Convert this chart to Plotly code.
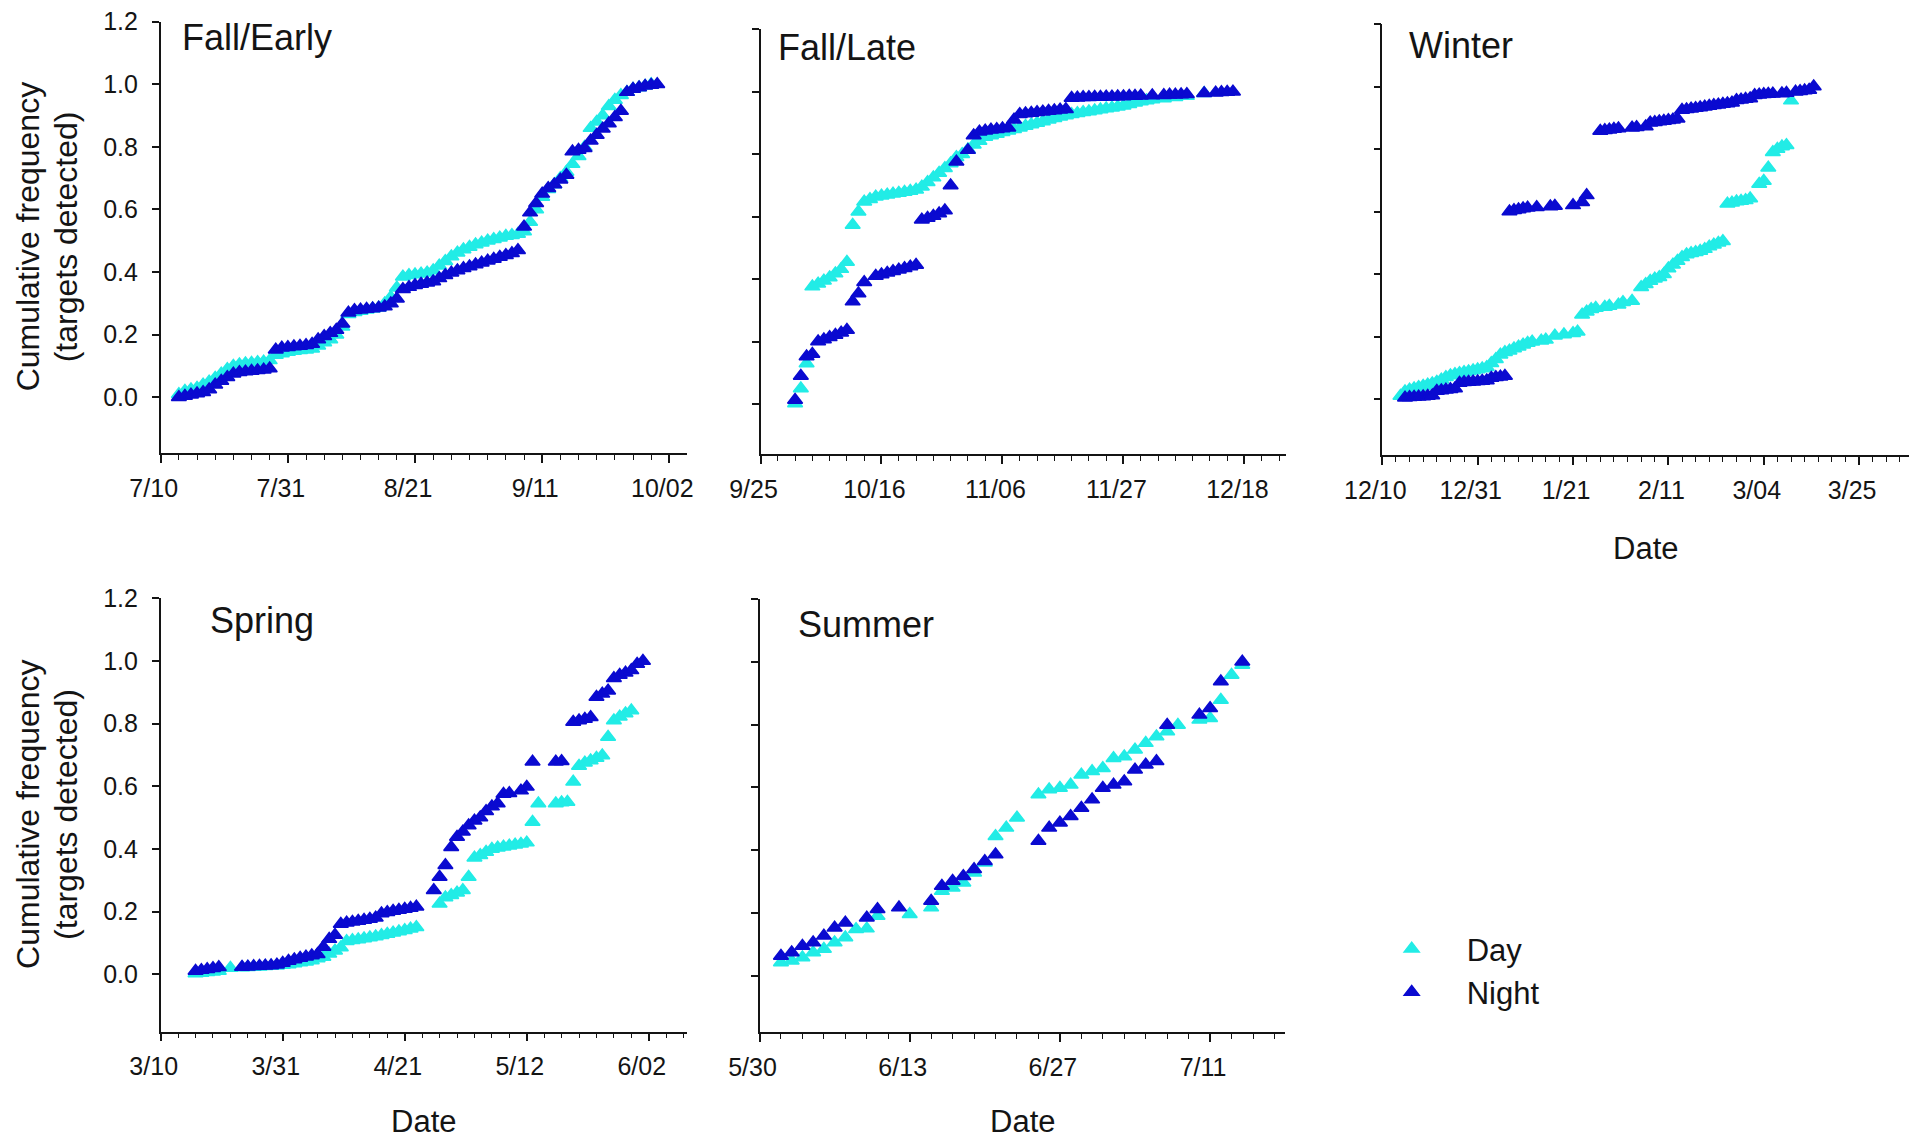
import pandas as pd
import plotly.graph_objects as go

# ---------------------------------------------------------------------------
# Cumulative frequency of targets detected, by season, day vs night.
# Each series: day offsets from the season's start date and cumulative values.
# ---------------------------------------------------------------------------

FALL_EARLY_START = "2009-07-10"
FALL_LATE_START = "2009-09-25"
WINTER_START = "2009-12-10"
SPRING_START = "2010-03-10"
SUMMER_START = "2010-05-30"

# Fall/Early
fe_day_days = [3, 4, 5, 6, 7, 8, 9, 10, 11, 12, 13, 14, 15, 16, 17, 18, 19, 20, 21, 22,
               23, 24, 25, 26, 27, 28, 29, 30, 31, 32, 33, 34, 35, 36, 37, 38, 39, 40, 41, 42,
               43, 44, 45, 46, 47, 48, 49, 50, 51, 52, 53, 54, 55, 56, 57, 58, 59, 60, 61, 62,
               63, 64, 65, 66, 67, 68, 69, 70, 71, 72, 73, 74, 75, 76, 77, 78, 79, 80, 81]
fe_day_vals = [0.010, 0.020, 0.025, 0.030, 0.040, 0.050, 0.062, 0.075, 0.090, 0.100,
               0.105, 0.108, 0.110, 0.112, 0.114, 0.118, 0.135, 0.140, 0.145, 0.148,
               0.150, 0.152, 0.155, 0.165, 0.175, 0.185, 0.200, 0.225, 0.265, 0.272,
               0.276, 0.280, 0.283, 0.286, 0.300, 0.320, 0.350, 0.385, 0.390, 0.392,
               0.395, 0.398, 0.405, 0.420, 0.435, 0.450, 0.462, 0.472, 0.480, 0.488,
               0.494, 0.500, 0.505, 0.510, 0.515, 0.518, 0.522, 0.530, 0.560, 0.600,
               0.640, 0.665, 0.680, 0.700, 0.720, 0.745, 0.770, 0.800, 0.860, 0.880,
               0.900, 0.930, 0.950, 0.965, 0.975, 0.985, 0.990, 0.995, 1.000]
fe_night_days = [3, 4, 5, 6, 7, 8, 9, 10, 11, 12, 13, 14, 15, 16, 17, 18, 19, 20, 21, 22,
                 23, 24, 25, 26, 27, 28, 29, 30, 31, 32, 33, 34, 35, 36, 37, 38, 39, 40, 41, 42,
                 43, 44, 45, 46, 47, 48, 49, 50, 51, 52, 53, 54, 55, 56, 57, 58, 59, 60, 61, 62,
                 63, 64, 65, 66, 67, 68, 69, 70, 71, 72, 73, 74, 75, 76, 77, 78, 79, 80, 81, 82]
fe_night_vals = [0.000, 0.004, 0.008, 0.012, 0.016, 0.025, 0.040, 0.052, 0.064, 0.075,
                 0.080, 0.082, 0.084, 0.086, 0.088, 0.092, 0.152, 0.158, 0.160, 0.162,
                 0.164, 0.166, 0.170, 0.185, 0.195, 0.205, 0.215, 0.235, 0.270, 0.278,
                 0.280, 0.282, 0.284, 0.286, 0.290, 0.300, 0.315, 0.345, 0.352, 0.358,
                 0.362, 0.366, 0.370, 0.380, 0.390, 0.398, 0.405, 0.412, 0.418, 0.424,
                 0.430, 0.436, 0.442, 0.448, 0.454, 0.460, 0.470, 0.545, 0.590, 0.620,
                 0.650, 0.668, 0.680, 0.695, 0.710, 0.785, 0.790, 0.796, 0.820, 0.838,
                 0.858, 0.875, 0.895, 0.915, 0.975, 0.985, 0.990, 0.995, 0.998, 1.000]

# Fall/Late
fl_day_days = [6, 7, 8, 9, 10, 11, 12, 13, 14, 15, 16, 17, 18,
               19, 20, 21, 22, 23, 24, 25, 26, 27,
               28, 29, 30, 31, 32, 33, 34, 35, 36, 37, 38,
               39, 40, 41, 42, 43, 44, 45, 46, 47, 48, 49, 50, 51, 52,
               53, 54, 55, 56, 57, 58, 59, 60, 61, 62, 63, 64, 65, 66, 67, 68,
               70, 72, 74, 77]
fl_day_vals = [0.002, 0.050, 0.130, 0.376, 0.385, 0.395, 0.405, 0.418, 0.432, 0.455, 0.573, 0.616, 0.648,
               0.656, 0.664, 0.667, 0.670, 0.673, 0.676, 0.679, 0.682, 0.686,
               0.696, 0.710, 0.725, 0.740, 0.755, 0.770, 0.790, 0.800, 0.815, 0.830, 0.842,
               0.855, 0.860, 0.865, 0.870, 0.875, 0.880, 0.885, 0.890, 0.895, 0.900, 0.905, 0.910, 0.915, 0.920,
               0.924, 0.928, 0.931, 0.934, 0.937, 0.940, 0.943, 0.946, 0.949, 0.952, 0.955, 0.960, 0.965, 0.969,
               0.972, 0.975,
               0.978, 0.982, 0.986, 0.995]
fl_night_days = [6, 7, 8, 9, 10, 11, 12, 13, 14, 15, 16, 17, 18,
                 20, 21, 22, 23, 24, 25, 26, 27,
                 28, 29, 30, 31, 32, 33, 34,
                 36, 37, 38, 39, 40, 41, 42, 43, 44, 45, 46, 47, 48, 49, 50, 51, 52, 53,
                 54, 55, 56, 57, 58, 59, 60, 61, 62, 63, 64, 65, 66,
                 68, 70, 71, 72, 73, 74,
                 77, 79, 80, 81, 82]
fl_night_vals = [0.013, 0.090, 0.152, 0.160, 0.200, 0.207, 0.214, 0.221, 0.228, 0.237, 0.328, 0.354, 0.390,
                 0.410, 0.415, 0.420, 0.425, 0.430, 0.435, 0.440, 0.445,
                 0.590, 0.596, 0.602, 0.610, 0.620, 0.700, 0.776,
                 0.813, 0.860, 0.872, 0.875, 0.878, 0.880, 0.882, 0.885, 0.910, 0.928, 0.930, 0.932,
                 0.934, 0.936, 0.938, 0.940, 0.942, 0.944,
                 0.980, 0.981, 0.982, 0.982, 0.983, 0.983, 0.984, 0.984, 0.985, 0.985, 0.986, 0.986, 0.987,
                 0.988, 0.989, 0.990, 0.990, 0.991, 0.992,
                 0.995, 0.997, 0.998, 0.999, 1.000]

# Winter
wi_day_days = [4, 5, 6, 7, 8, 9, 10, 11,
               12, 13, 14, 15, 16, 17, 18, 19, 20, 21, 22, 23,
               24, 25, 26, 27, 28, 29, 30, 31, 32, 33,
               35, 36, 38, 40, 42, 43,
               44, 45, 46, 47, 49, 50, 52, 53, 55,
               57, 58, 59, 60, 61, 62, 63, 64, 65, 66, 67, 68, 69, 70, 71, 72, 73, 74, 75,
               76, 77, 78, 79, 80, 81,
               83, 84, 85, 86, 87, 88, 89,
               90]
wi_day_vals = [0.010, 0.025, 0.030, 0.034, 0.038, 0.042, 0.046, 0.050,
               0.055, 0.062, 0.070, 0.076, 0.080, 0.083, 0.086, 0.089, 0.092, 0.095, 0.098, 0.102,
               0.115, 0.128, 0.142, 0.150, 0.155, 0.162, 0.168, 0.174, 0.180, 0.184,
               0.187, 0.190, 0.203, 0.207, 0.211, 0.216,
               0.270, 0.280, 0.288, 0.292, 0.295, 0.298, 0.302, 0.310, 0.314,
               0.358, 0.368, 0.378, 0.385, 0.390, 0.400, 0.418, 0.430, 0.442, 0.454, 0.463, 0.467,
               0.470, 0.474, 0.480, 0.488, 0.494, 0.500, 0.505,
               0.625, 0.628, 0.632, 0.634, 0.636, 0.642,
               0.688, 0.698, 0.740, 0.790, 0.800, 0.808, 0.812,
               0.955]
wi_night_days = [5, 6, 7, 8, 9, 10, 11,
                 12, 13, 14, 15, 16,
                 17, 18, 19, 20, 21, 22, 23,
                 24, 25, 26, 27,
                 28, 29, 30, 31, 32, 34, 37, 38,
                 42, 44, 45,
                 48, 49, 50, 51, 52, 55, 56, 58,
                 59, 60, 61, 62, 63, 64, 65,
                 66, 67, 68, 69, 70, 71, 72, 73, 74, 75, 76, 77,
                 78, 79, 80, 81,
                 82, 83, 84, 85, 86, 88, 89,
                 91, 92, 93, 94, 95]
wi_night_vals = [0.005, 0.006, 0.007, 0.008, 0.009, 0.010, 0.012,
                 0.026, 0.028, 0.030, 0.032, 0.034,
                 0.052, 0.054, 0.055, 0.056, 0.057, 0.058, 0.060,
                 0.068, 0.070, 0.072, 0.074,
                 0.600, 0.604, 0.607, 0.610, 0.612, 0.614, 0.616, 0.618,
                 0.620, 0.630, 0.652,
                 0.858, 0.860, 0.862, 0.864, 0.866, 0.868, 0.870, 0.872,
                 0.884, 0.886, 0.888, 0.890, 0.892, 0.894, 0.897,
                 0.925, 0.927, 0.929, 0.931, 0.933, 0.935, 0.938, 0.940, 0.942, 0.944, 0.946, 0.948,
                 0.956, 0.958, 0.960, 0.962,
                 0.972, 0.974, 0.975, 0.976, 0.977, 0.978, 0.979,
                 0.983, 0.985, 0.987, 0.989, 1.000]

# Spring
sp_day_days = [6, 7, 8, 9, 10, 12,
               14, 15, 16, 17, 18, 19, 20,
               21, 22, 23, 24, 25, 26, 27,
               28, 29, 30, 31,
               32, 33, 34, 35, 36, 37, 38, 39, 40, 41, 42, 43, 44,
               48, 49, 50, 51, 52,
               53, 54, 55, 56, 57, 58, 59, 60, 61, 62, 63,
               64, 65, 68, 69, 70,
               71, 72, 73, 74, 75, 76,
               77, 78, 79, 80, 81]
sp_day_vals = [0.002, 0.004, 0.006, 0.008, 0.010, 0.020,
               0.021, 0.022, 0.023, 0.024, 0.025, 0.026, 0.027,
               0.029, 0.031, 0.034, 0.037, 0.040, 0.044, 0.050,
               0.055, 0.065, 0.075, 0.085,
               0.105, 0.108, 0.111, 0.114, 0.117, 0.120, 0.124, 0.128, 0.132, 0.136, 0.140, 0.145, 0.150,
               0.225, 0.245, 0.252, 0.260, 0.268,
               0.310, 0.372, 0.380, 0.390, 0.400, 0.404, 0.407, 0.410, 0.413, 0.416, 0.420,
               0.486, 0.545, 0.545, 0.548, 0.550,
               0.614, 0.665, 0.675, 0.682, 0.690, 0.698,
               0.757, 0.810, 0.822, 0.832, 0.842]
sp_night_days = [6, 7, 8, 9, 10,
                 14, 15, 16, 17, 18, 19, 20,
                 21, 22, 23, 24, 25, 26, 27,
                 28, 29, 30,
                 31, 32, 33, 34, 35, 36, 37,
                 38, 39, 40, 41, 42, 43, 44,
                 47, 48, 49,
                 50, 51, 52, 53, 54, 55, 56, 57, 58,
                 59, 60, 62, 63,
                 64, 68, 69,
                 71, 72, 73, 74,
                 75, 76, 77,
                 78, 79, 80, 81,
                 82, 83]
sp_night_vals = [0.010, 0.013, 0.016, 0.019, 0.022,
                 0.023, 0.024, 0.025, 0.026, 0.027, 0.028, 0.030,
                 0.036, 0.042, 0.047, 0.052, 0.056, 0.060, 0.064,
                 0.087, 0.112, 0.125,
                 0.160, 0.164, 0.167, 0.170, 0.173, 0.176, 0.180,
                 0.194, 0.198, 0.202, 0.205, 0.208, 0.211, 0.215,
                 0.268, 0.310, 0.348,
                 0.405, 0.438, 0.455, 0.475, 0.490, 0.500, 0.520, 0.535, 0.545,
                 0.575, 0.578, 0.586, 0.598,
                 0.678, 0.678, 0.680,
                 0.805, 0.810, 0.815, 0.820,
                 0.885, 0.895, 0.905,
                 0.945, 0.955, 0.962, 0.970,
                 0.990, 1.000]

# Summer
su_day_days = [2, 3, 4, 5, 6, 7, 8, 9, 10, 11, 14,
               16, 17, 18, 19, 20, 21, 22, 23, 24,
               26, 27, 28, 29, 30, 31, 32, 33, 34, 35, 36, 37, 38, 39,
               41, 42, 43, 44, 45]
su_day_vals = [0.042, 0.048, 0.058, 0.074, 0.085, 0.106, 0.122, 0.148, 0.150, 0.190, 0.196,
               0.217, 0.270, 0.280, 0.296, 0.328, 0.360, 0.444, 0.471, 0.503,
               0.577, 0.593, 0.598, 0.608, 0.640, 0.651, 0.661, 0.693, 0.698, 0.720, 0.741, 0.762,
               0.778, 0.799,
               0.815, 0.820, 0.878, 0.958, 0.990]
su_night_days = [2, 3, 4, 5, 6, 7, 8, 10, 11, 13,
                 16, 17, 18, 19, 20, 21, 22,
                 26, 27, 28, 29, 30, 31, 32, 33, 34, 35, 36, 37, 38,
                 41, 42, 43, 45]
su_night_vals = [0.063, 0.074, 0.095, 0.106, 0.127, 0.153, 0.169, 0.185, 0.212, 0.217,
                 0.238, 0.286, 0.302, 0.317, 0.339, 0.365, 0.386,
                 0.429, 0.471, 0.487, 0.508, 0.534, 0.561, 0.598, 0.608, 0.619, 0.656, 0.672, 0.683,
                 0.799,
                 0.831, 0.852, 0.937, 1.000]

SEASON_LABELS = ["Fall/Early", "Fall/Late", "Winter", "Spring", "Summer"]
SERIES_NAMES = ["Day", "Night"]
Y_TICKS = [0.0, 0.2, 0.4, 0.6, 0.8, 1.0, 1.2]
Y_TITLE_LINES = ["Cumulative frequency", "(targets detected)"]

# ---------------------------------------------------------------------------
# Figure geometry (pixels of a 1923 x 1139 canvas)
# ---------------------------------------------------------------------------
W, H = 1923, 1139
DAY_MS = 86400000
FONT = "Liberation Sans, Arial, Helvetica, sans-serif"
INK = "#141414"
DAY_COLOR = "#22ECE6"
NIGHT_COLOR = "#0A0AD0"


def px_x(x):
    return x / W


def px_y(y):
    return 1 - y / H


panels = [
    dict(label=SEASON_LABELS[0], start=FALL_EARLY_START, end="2009-10-04 22:00",
         box=(160.7, 687.0, 21.7, 453.0), yr=(-0.178, 1.2), major=21, minor=3,
         day=(fe_day_days, fe_day_vals), night=(fe_night_days, fe_night_vals),
         title_xy=(180.0, 37.5), ylabels=True, date_gap=None),
    dict(label=SEASON_LABELS[1], start=FALL_LATE_START, end="2009-12-25 05:00",
         box=(760.5, 1286.0, 28.5, 454.0), yr=(-0.160, 1.2024), major=21, minor=3,
         day=(fl_day_days, fl_day_vals), night=(fl_night_days, fl_night_vals),
         title_xy=(776.3, 47.2), ylabels=False, date_gap=None),
    dict(label=SEASON_LABELS[2], start=WINTER_START, end="2010-04-04 21:00",
         box=(1382.3, 1908.5, 24.0, 455.0), yr=(-0.1785, 1.2), major=21, minor=3,
         day=(wi_day_days, wi_day_vals), night=(wi_night_days, wi_night_vals),
         title_xy=(1406.6, 45.7), ylabels=False, date_gap=93),
    dict(label=SEASON_LABELS[3], start=SPRING_START, end="2010-06-08 14:00",
         box=(160.7, 687.0, 598.3, 1031.5), yr=(-0.183, 1.2), major=21, minor=3,
         day=(sp_day_days, sp_day_vals), night=(sp_night_days, sp_night_vals),
         title_xy=(208.3, 620.0), ylabels=True, date_gap=90),
    dict(label=SEASON_LABELS[4], start=SUMMER_START, end="2010-07-18 00:00",
         box=(759.5, 1285.2, 599.0, 1031.9), yr=(-0.179, 1.2), major=14, minor=2,
         day=(su_day_days, su_day_vals), night=(su_night_days, su_night_vals),
         title_xy=(795.6, 624.7), ylabels=False, date_gap=90),
]

fig = go.Figure()
annotations = []
layout_axes = {}

for i, p in enumerate(panels, start=1):
    xname = "x" if i == 1 else f"x{i}"
    yname = "y" if i == 1 else f"y{i}"
    start = pd.Timestamp(p["start"])

    for series, color, data in ((SERIES_NAMES[0], DAY_COLOR, p["day"]),
                                (SERIES_NAMES[1], NIGHT_COLOR, p["night"])):
        days, vals = data
        assert len(days) == len(vals), (p["label"], series)
        dates = start + pd.to_timedelta(days, unit="D")
        fig.add_trace(go.Scatter(
            x=dates, y=vals, mode="markers", name=series,
            legendgroup=series, showlegend=(i == 1),
            marker=dict(symbol="triangle-up", size=13, color=color,
                        line=dict(color=color, width=1.5)),
            xaxis=xname, yaxis=yname, cliponaxis=False,
        ))

    left, right, top, bottom = p["box"]
    layout_axes["xaxis" if i == 1 else f"xaxis{i}"] = dict(
        domain=[px_x(left), px_x(right)], anchor=yname, type="date",
        range=[p["start"], p["end"]], automargin=False,
        tick0=p["start"], dtick=p["major"] * DAY_MS, tickformat="%-m/%d",
        ticks="outside", ticklen=8, tickwidth=1.5, tickcolor=INK,
        showline=True, linecolor=INK, linewidth=1.5,
        showgrid=False, zeroline=False,
        tickfont=dict(family=FONT, size=25, color=INK),
        ticklabelshift=-7, ticklabelstandoff=4,
        minor=dict(ticks="outside", ticklen=5, tickwidth=1.2, tickcolor=INK,
                   tick0=p["start"], dtick=p["minor"] * DAY_MS, showgrid=False),
    )
    layout_axes["yaxis" if i == 1 else f"yaxis{i}"] = dict(
        domain=[px_y(bottom), px_y(top)], anchor=xname, automargin=False,
        range=list(p["yr"]), tickvals=Y_TICKS, tickformat=".1f",
        ticks="outside", ticklen=7, tickwidth=1.5, tickcolor=INK,
        showticklabels=p["ylabels"],
        showline=True, linecolor=INK, linewidth=1.5,
        showgrid=False, zeroline=False,
        tickfont=dict(family=FONT, size=25, color=INK),
        ticklabelstandoff=9,
    )

    tx, ty = p["title_xy"]
    annotations.append(dict(
        text=p["label"], x=px_x(tx), y=px_y(ty), xref="paper", yref="paper",
        xanchor="left", yanchor="middle", showarrow=False,
        font=dict(family=FONT, size=36, color=INK),
    ))
    if p["date_gap"] is not None:
        annotations.append(dict(
            text="Date", x=px_x((left + right) / 2), y=px_y(bottom + p["date_gap"]),
            xref="paper", yref="paper", xanchor="center", yanchor="middle",
            showarrow=False, font=dict(family=FONT, size=31, color=INK),
        ))
    if p["ylabels"]:
        for line_text, line_x in zip(Y_TITLE_LINES, (28.0, 66.0)):
            annotations.append(dict(
                text=line_text, x=px_x(line_x), y=px_y((top + bottom) / 2),
                xref="paper", yref="paper", xanchor="center", yanchor="middle",
                textangle=-90, showarrow=False,
                font=dict(family=FONT, size=32, color=INK),
            ))

fig.update_layout(
    template="none",
    width=W, height=H, autosize=False,
    margin=dict(l=0, r=0, t=0, b=0, autoexpand=False),
    paper_bgcolor="white", plot_bgcolor="white",
    font=dict(family=FONT, color=INK),
    showlegend=True,
    legend=dict(x=px_x(1356.7), y=px_y(922.0), xanchor="left", yanchor="top",
                font=dict(family=FONT, size=31, color=INK),
                bgcolor="rgba(0,0,0,0)", borderwidth=0,
                itemwidth=100, tracegroupgap=0),
    annotations=annotations,
    **layout_axes,
)

fig.write_html("out.html", include_plotlyjs=True, full_html=True,
               config=dict(displayModeBar=False))
